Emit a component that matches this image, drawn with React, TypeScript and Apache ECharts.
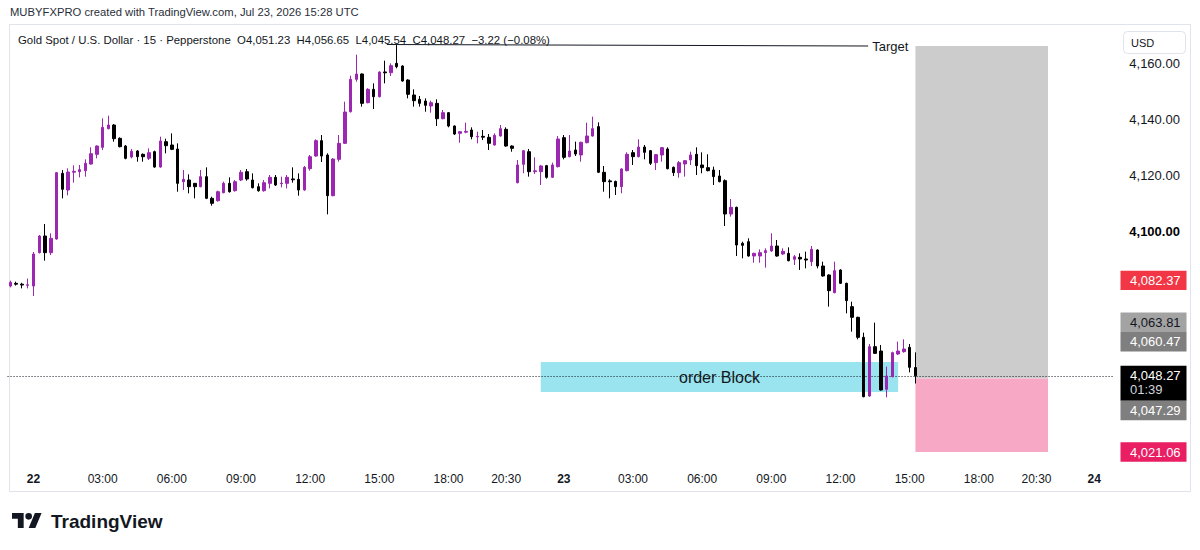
import React, { useEffect, useRef } from 'react';
import * as echarts from 'echarts';

const FONT = '"Liberation Sans", Arial, sans-serif';

// 15-minute bars, Jul 21 23:00 UTC -> Jul 23 15:15 UTC (market closed 21:00-22:00)
const opens = [
  4080.35, 4081.3, 4081.0, 4080.6, 4080.35, 4092.26, 4098.21, 4092.26, 4097.14, 4120.59,
  4114.64, 4121.0, 4121.19, 4121.54, 4123.92, 4127.38, 4129.88, 4136.54, 4137.85, 4133.09,
  4130.35, 4126.42, 4128.57, 4127.38, 4125.95, 4128.33, 4122.85, 4131.9, 4130.71, 4129.28,
  4117.61, 4118.21, 4117.02, 4115.83, 4119.4, 4111.66, 4110.83, 4113.69, 4117.02, 4114.4,
  4118.21, 4121.19, 4118.21, 4115.83, 4114.4, 4117.02, 4119.16, 4116.9, 4117.02, 4118.6,
  4118.45, 4114.64, 4122.26, 4126.78, 4132.26, 4127.14, 4112.61, 4125.59, 4131.31, 4142.61,
  4154.16, 4156.07, 4145.83, 4150.59, 4147.97, 4156.8, 4156.54, 4159.88, 4158.92, 4153.92,
  4148.57, 4147.02, 4146.42, 4144.64, 4145.59, 4140.11, 4142.26, 4137.5, 4134.88, 4135.3,
  4136.07, 4133.6, 4133.8, 4133.45, 4130.71, 4133.93, 4136.31, 4130.35, 4117.27, 4123.81,
  4128.33, 4121.2, 4121.19, 4123.34, 4119.17, 4122.98, 4133.34, 4126.55, 4128.93, 4127.15,
  4131.55, 4133.93, 4137.27, 4120.96, 4117.9, 4117.7, 4115.84, 4121.55, 4127.98, 4126.55,
  4130.0, 4128.69, 4124.41, 4127.15, 4129.29, 4122.75, 4120.84, 4123.93, 4125.36, 4127.39,
  4123.58, 4122.62, 4121.79, 4119.65, 4117.98, 4106.07, 4108.45, 4095.6, 4096.19, 4091.07,
  4091.07, 4092.26, 4092.86, 4094.64, 4091.79, 4092.02, 4089.88, 4090.6, 4090.0, 4089.05,
  4093.21, 4087.5, 4084.29, 4077.98, 4086.07, 4081.31, 4072.98, 4069.17, 4062.02, 4041.07,
  4058.69, 4057.14, 4043.45, 4047.98, 4056.07, 4056.9, 4058.45, 4051.23,
];
const highs = [
  4082.26, 4081.9, 4081.5, 4083.0, 4092.5, 4098.57, 4102.5, 4099.16, 4121.07, 4121.78,
  4122.38, 4123.45, 4123.57, 4125.59, 4129.88, 4130.6, 4140.23, 4141.19, 4138.2, 4133.45,
  4130.7, 4129.28, 4128.9, 4127.7, 4129.52, 4128.7, 4133.69, 4132.97, 4134.88, 4131.31,
  4121.78, 4120.23, 4117.1, 4121.78, 4122.73, 4112.26, 4114.4, 4117.61, 4119.16, 4118.2,
  4121.78, 4122.14, 4120.59, 4117.02, 4118.21, 4120.0, 4120.0, 4119.4, 4120.0, 4122.73,
  4120.59, 4123.21, 4127.14, 4132.73, 4134.28, 4127.73, 4126.0, 4134.28, 4146.19, 4155.47,
  4162.97, 4156.3, 4151.0, 4152.73, 4157.0, 4160.83, 4159.88, 4166.4, 4159.2, 4154.2,
  4150.59, 4148.21, 4147.38, 4146.54, 4147.02, 4143.21, 4142.5, 4137.7, 4135.6, 4138.69,
  4137.02, 4135.47, 4136.07, 4134.64, 4134.88, 4137.85, 4137.02, 4130.6, 4125.36, 4128.93,
  4129.29, 4126.31, 4123.6, 4123.6, 4124.41, 4133.93, 4134.29, 4134.29, 4131.91, 4131.91,
  4138.69, 4140.84, 4138.81, 4123.22, 4118.46, 4118.0, 4122.4, 4128.1, 4128.93, 4132.74,
  4130.72, 4128.93, 4127.5, 4130.0, 4129.88, 4123.0, 4125.0, 4125.36, 4128.34, 4129.88,
  4128.1, 4127.39, 4122.98, 4121.79, 4118.45, 4111.43, 4108.7, 4096.19, 4097.38, 4092.26,
  4093.45, 4093.81, 4099.17, 4096.79, 4093.81, 4094.17, 4091.43, 4092.02, 4092.62, 4094.64,
  4093.45, 4089.05, 4084.52, 4089.05, 4086.31, 4081.55, 4074.76, 4069.4, 4063.69, 4059.64,
  4067.26, 4059.29, 4051.55, 4056.9, 4060.48, 4061.31, 4059.64, 4056.65,
];
const lows = [
  4079.88, 4080.5, 4079.5, 4079.5, 4076.78, 4092.0, 4089.4, 4091.42, 4096.9, 4111.66,
  4112.73, 4117.26, 4119.16, 4119.4, 4123.7, 4125.95, 4128.92, 4136.3, 4131.9, 4129.88,
  4125.6, 4125.95, 4124.76, 4124.76, 4125.35, 4122.6, 4122.6, 4127.73, 4128.9, 4114.04,
  4114.64, 4113.45, 4111.66, 4115.6, 4111.4, 4109.04, 4110.5, 4113.45, 4113.7, 4114.04,
  4117.85, 4117.97, 4115.2, 4114.04, 4114.04, 4115.23, 4116.07, 4115.59, 4115.23, 4117.26,
  4112.61, 4114.4, 4121.54, 4126.5, 4124.64, 4105.95, 4112.4, 4124.76, 4131.1, 4142.3,
  4153.33, 4144.4, 4145.6, 4143.57, 4147.7, 4152.73, 4155.35, 4158.09, 4153.33, 4147.38,
  4144.4, 4144.4, 4142.61, 4142.26, 4137.5, 4139.9, 4137.02, 4134.28, 4131.54, 4134.9,
  4132.73, 4131.31, 4132.5, 4128.92, 4130.5, 4133.7, 4130.1, 4128.33, 4117.0, 4120.6,
  4119.41, 4120.36, 4116.43, 4118.7, 4118.9, 4122.7, 4125.6, 4126.3, 4126.79, 4124.77,
  4131.3, 4133.7, 4120.7, 4114.05, 4111.67, 4112.86, 4113.46, 4121.3, 4123.58, 4126.3,
  4125.6, 4123.58, 4121.79, 4124.77, 4122.0, 4119.65, 4119.05, 4119.41, 4123.58, 4120.0,
  4120.6, 4121.3, 4116.43, 4117.4, 4101.79, 4105.12, 4091.07, 4090.24, 4090.83, 4088.69,
  4088.69, 4086.9, 4092.6, 4090.83, 4091.43, 4089.17, 4087.86, 4086.07, 4086.67, 4087.5,
  4086.67, 4083.69, 4072.98, 4077.74, 4081.07, 4070.6, 4064.05, 4061.31, 4040.6, 4040.83,
  4056.07, 4043.0, 4040.6, 4047.74, 4055.7, 4056.55, 4049.52, 4045.54,
];
const closes = [
  4081.66, 4081.0, 4080.7, 4080.8, 4091.78, 4098.21, 4092.26, 4097.38, 4120.83, 4114.88,
  4121.07, 4121.3, 4121.9, 4124.16, 4127.61, 4130.35, 4137.02, 4137.85, 4132.97, 4130.11,
  4125.95, 4128.45, 4126.54, 4126.54, 4127.97, 4122.85, 4132.14, 4130.47, 4129.16, 4117.02,
  4118.45, 4115.83, 4115.83, 4119.4, 4111.66, 4109.88, 4114.04, 4117.02, 4114.04, 4117.61,
  4120.95, 4118.57, 4115.47, 4114.4, 4117.26, 4119.16, 4116.42, 4117.1, 4119.16, 4118.3,
  4114.64, 4122.73, 4126.54, 4132.26, 4126.78, 4112.61, 4125.71, 4131.31, 4142.5, 4154.16,
  4156.07, 4145.59, 4150.59, 4147.97, 4156.78, 4156.5, 4159.04, 4158.69, 4153.57, 4148.81,
  4146.54, 4145.59, 4144.88, 4145.83, 4140.11, 4142.26, 4137.5, 4134.64, 4135.47, 4135.6,
  4133.69, 4133.8, 4133.5, 4131.31, 4134.16, 4136.54, 4130.35, 4129.52, 4123.58, 4128.69,
  4121.19, 4121.5, 4123.22, 4119.17, 4123.58, 4132.86, 4126.31, 4128.58, 4127.5, 4131.67,
  4133.93, 4136.55, 4120.96, 4117.62, 4117.6, 4115.84, 4122.15, 4127.39, 4126.55, 4130.0,
  4128.1, 4124.17, 4127.27, 4129.77, 4122.27, 4120.84, 4124.41, 4125.12, 4127.15, 4123.34,
  4122.62, 4121.55, 4119.41, 4117.62, 4106.07, 4108.45, 4095.0, 4094.88, 4091.07, 4092.02,
  4092.26, 4092.98, 4094.64, 4091.07, 4092.74, 4089.4, 4090.83, 4090.0, 4089.64, 4093.45,
  4087.5, 4083.93, 4078.69, 4085.83, 4081.31, 4075.12, 4069.17, 4062.02, 4040.83, 4058.69,
  4056.31, 4043.21, 4048.21, 4056.55, 4057.14, 4057.86, 4051.31, 4048.27,
];

// time axis: 15-minute slots, including future slots up to the right edge
const SLOT_COUNT = 192;
const categories: string[] = [];
{
  let day = 21;
  let minutes = 23 * 60;
  const pad = (n: number) => String(n).padStart(2, '0');
  while (categories.length < SLOT_COUNT) {
    const h = Math.floor(minutes / 60);
    const m = minutes % 60;
    if (h !== 21) categories.push(`${day}|${pad(h)}:${pad(m)}`);
    minutes += 15;
    if (minutes >= 1440) {
      minutes = 0;
      day += 1;
    }
  }
}
const tickTimes = ['00:00', '03:00', '06:00', '09:00', '12:00', '15:00', '18:00', '20:30'];
const yTicks = [4100, 4120, 4140, 4160];

// drawings
const orderBlock = { from: 92, to: 154, top: 4053.21, bottom: 4042.5, name: 'order Block' };
const position = { from: 157, to: 180, target: 4166.07, entry: 4047.29, stop: 4021.06 };
const targetLine = [[65.3, 4166.6], [148.8, 4166.07]];
const lastPrice = 4048.27;

const priceTags = [
  { value: 4082.37, bg: '#f23645', fg: '#ffffff' },
  { value: 4063.81, bg: '#a3a3a3', fg: '#131722' },
  { value: 4060.47, bg: '#7f7f7f', fg: '#ffffff' },
  { value: 4047.29, bg: '#7f7f7f', fg: '#ffffff' },
  { value: 4021.06, bg: '#e91e63', fg: '#ffffff' },
];

const fmt = (v: number) =>
  v.toLocaleString('en-US', { minimumFractionDigits: 2, maximumFractionDigits: 2 });

const tvLogoPath = 'M14 22H7V11H0V4h14v18zM28 22h-8l7.5-18h8L28 22zM24 8a4 4 0 1 1-8 0a4 4 0 1 1 8 0z';
echarts.graphic.registerShape('tvlogo', echarts.graphic.extendPath(tvLogoPath, {}) as any);

export default function App() {
  const ref = useRef<HTMLDivElement>(null);

  useEffect(() => {
    if (!ref.current) return;
    const chart = echarts.init(ref.current, undefined, { renderer: 'svg' });

    const candleData = opens.map((o, i) => [o, closes[i], lows[i], highs[i]]);

    const option: any = {
      animation: false,
      backgroundColor: '#ffffff',
      grid: { left: 7.56, right: 85.7, top: 28, bottom: 87, containLabel: false },
      xAxis: [
        {
          type: 'category',
          data: categories,
          boundaryGap: true,
          axisLine: { show: false },
          axisTick: { show: false },
          splitLine: { show: false },
          axisLabel: {
            interval: (idx: number, val: string) => tickTimes.includes(val.split('|')[1]),
            formatter: (val: string) => {
              const [d, t] = val.split('|');
              return t === '00:00' ? `{b|${d}}` : t;
            },
            margin: 10,
            color: '#131722',
            fontSize: 12,
            fontFamily: FONT,
            rich: { b: { fontWeight: 'bold', fontSize: 12, color: '#131722', fontFamily: FONT } },
          },
        },
        { type: 'value', min: -0.5, max: SLOT_COUNT - 0.5, show: false },
      ],
      yAxis: {
        type: 'value',
        position: 'right',
        min: 4017.143,
        max: 4172.5,
        splitLine: { show: false },
        axisLine: { show: false },
        axisTick: { show: false },
        axisLabel: {
          customValues: yTicks,
          margin: 15,
          color: '#131722',
          fontSize: 13,
          fontFamily: FONT,
          formatter: (v: number) => (v === 4100 ? `{b|${fmt(v)}}` : fmt(v)),
          rich: { b: { fontWeight: 'bold', fontSize: 13, color: '#000000', fontFamily: FONT } },
        },
      },
      series: [
        {
          type: 'line',
          xAxisIndex: 1,
          z: 1,
          data: [[orderBlock.from, orderBlock.top]],
          showSymbol: false,
          symbol: 'none',
          lineStyle: { opacity: 0 },
          silent: true,
          markArea: {
            silent: true,
            data: [
              [
                {
                  name: orderBlock.name,
                  coord: [orderBlock.from, orderBlock.top],
                  itemStyle: { color: 'rgba(0,188,212,0.4)' },
                  label: {
                    show: true,
                    position: 'inside',
                    color: '#131722',
                    fontSize: 16,
                    fontFamily: FONT,
                  },
                },
                { coord: [orderBlock.to, orderBlock.bottom] },
              ],
              [
                {
                  coord: [position.from, position.target],
                  itemStyle: { color: '#cccccc' },
                  label: { show: false },
                },
                { coord: [position.to, position.entry] },
              ],
              [
                {
                  coord: [position.from, position.entry],
                  itemStyle: { color: '#f7a8c4' },
                  label: { show: false },
                },
                { coord: [position.to, position.stop] },
              ],
            ],
          },
        },
        {
          type: 'line',
          xAxisIndex: 1,
          z: 3,
          data: targetLine,
          symbol: 'none',
          lineStyle: { color: '#131722', width: 1 },
          endLabel: {
            show: true,
            formatter: 'Target',
            color: '#131722',
            fontSize: 13,
            fontFamily: FONT,
            distance: 4,
          },
          silent: true,
        },
        {
          type: 'candlestick',
          z: 5,
          data: candleData,
          barWidth: 3,
          itemStyle: {
            color: '#9c27b0',
            color0: '#000000',
            borderColor: '#9c27b0',
            borderColor0: '#000000',
            borderWidth: 1,
          },
          markLine: {
            silent: true,
            symbol: 'none',
            label: { show: false },
            lineStyle: { color: '#131722', type: [1, 2], width: 1 },
            data: [{ yAxis: lastPrice }],
          },
        },
      ],
    };

    chart.setOption(option);

    // price tags on the price scale
    const yOf = (v: number) => chart.convertToPixel({ yAxisIndex: 0 }, v) as number;
    const tagH = 19.4;
    const lastY = yOf(lastPrice);
    const lastTop = lastY - 10;
    const lastBottom = lastY + 25;
    const above = priceTags.filter((t) => t.value > lastPrice).sort((a, b) => a.value - b.value);
    const below = priceTags.filter((t) => t.value <= lastPrice).sort((a, b) => b.value - a.value);
    const placed: { top: number; tag: (typeof priceTags)[number] }[] = [];
    let limit = lastTop;
    above.forEach((t) => {
      let top = yOf(t.value) - tagH / 2;
      if (top + tagH > limit) top = limit - tagH;
      placed.push({ top, tag: t });
      limit = top;
    });
    limit = lastBottom;
    below.forEach((t) => {
      let top = yOf(t.value) - tagH / 2;
      if (top < limit) top = limit;
      placed.push({ top, tag: t });
      limit = top + tagH;
    });

    const tagX = 1120.5;
    const tagW = 66;
    const tagFont = 13;
    const graphics: any[] = [
      {
        type: 'rect',
        shape: { x: 9.5, y: 24.5, width: 1181, height: 467, r: 0 },
        style: { fill: 'none', stroke: '#e0e3eb', lineWidth: 1 },
        silent: true,
        z: 0,
      },
      {
        type: 'text',
        x: 10,
        y: 12,
        style: {
          text: 'MUBYFXPRO created with TradingView.com, Jul 23, 2026 15:28 UTC',
          fill: '#2a2e39',
          fontSize: 11.25,
          fontFamily: FONT,
          verticalAlign: 'middle',
        },
      },
      {
        type: 'text',
        x: 18,
        y: 40,
        z: 10,
        style: {
          text: 'Gold Spot / U.S. Dollar · 15 · Pepperstone  O4,051.23  H4,056.65  L4,045.54  C4,048.27  −3.22 (−0.08%)',
          fill: '#131722',
          fontSize: 11.4,
          fontFamily: FONT,
          verticalAlign: 'middle',
        },
      },
      {
        type: 'rect',
        shape: { x: 1123.5, y: 31.5, width: 62, height: 22, r: 4 },
        style: { fill: '#ffffff', stroke: '#e0e3eb', lineWidth: 1 },
        z: 10,
      },
      {
        type: 'text',
        x: 1131,
        y: 43,
        z: 11,
        style: { text: 'USD', fill: '#131722', fontSize: 11, fontFamily: FONT, verticalAlign: 'middle' },
      },
      {
        type: 'rect',
        shape: { x: tagX, y: lastTop, width: tagW, height: lastBottom - lastTop },
        style: { fill: '#000000' },
        z: 10,
      },
      {
        type: 'text',
        x: 1130,
        y: lastY,
        z: 11,
        style: { text: fmt(lastPrice), fill: '#ffffff', fontSize: tagFont, fontFamily: FONT, verticalAlign: 'middle' },
      },
      {
        type: 'text',
        x: 1130,
        y: lastY + 14,
        z: 11,
        style: { text: '01:39', fill: '#d1d4dc', fontSize: tagFont, fontFamily: FONT, verticalAlign: 'middle' },
      },
      {
        type: 'tvlogo',
        x: 12,
        y: 509.7,
        scaleX: 0.833,
        scaleY: 0.833,
        style: { fill: '#131722' },
      },
      {
        type: 'text',
        x: 51,
        y: 521,
        style: {
          text: 'TradingView',
          fill: '#131722',
          fontSize: 19,
          fontWeight: 'bold',
          fontFamily: FONT,
          verticalAlign: 'middle',
        },
      },
    ];
    placed.forEach(({ top, tag }) => {
      graphics.push({
        type: 'rect',
        shape: { x: tagX, y: top, width: tagW, height: tagH },
        style: { fill: tag.bg },
        z: 10,
      });
      graphics.push({
        type: 'text',
        x: 1130,
        y: top + tagH / 2,
        z: 11,
        style: { text: fmt(tag.value), fill: tag.fg, fontSize: tagFont, fontFamily: FONT, verticalAlign: 'middle' },
      });
    });
    chart.setOption({ graphic: graphics });

    return () => chart.dispose();
  }, []);

  return (
    <div
      ref={ref}
      style={{ position: 'fixed', left: 0, top: 0, width: 1200, height: 550, background: '#ffffff' }}
    />
  );
}
